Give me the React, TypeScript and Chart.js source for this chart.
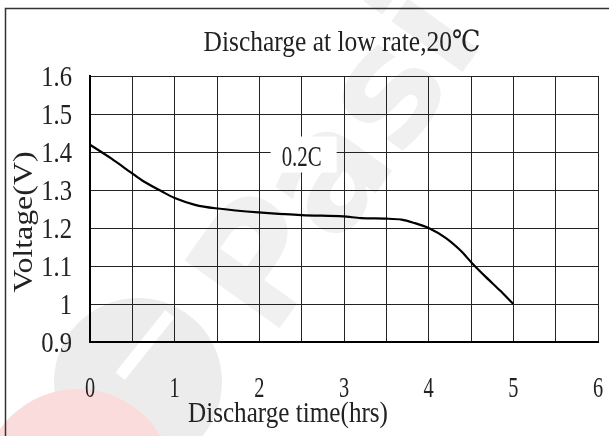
import React, { useEffect, useRef } from "react";
import { Chart, registerables } from "chart.js";

Chart.register(...registerables);

const hours = [0, 0.25, 0.49, 0.63, 0.85, 1.0, 1.24, 1.48, 1.99, 2.5, 2.99, 3.2, 3.5, 3.68, 3.82, 4.0, 4.2, 4.38, 4.51, 4.68, 4.84, 5.0];
const voltage = [1.419, 1.383, 1.345, 1.323, 1.296, 1.279, 1.261, 1.252, 1.241, 1.234, 1.2305, 1.226, 1.2245, 1.222, 1.214, 1.2, 1.174, 1.14, 1.108, 1.07, 1.036, 1.0];

const xTickValues = [0, 1, 2, 3, 4, 5, 6];
const xTickLabels = ["0", "1", "2", "3", "4", "5", "6"];
const yTickValues = [0.9, 1.0, 1.1, 1.2, 1.3, 1.4, 1.5, 1.6];
const yTickLabels = ["0.9", "1", "1.1", "1.2", "1.3", "1.4", "1.5", "1.6"];

const chartTitle = "Discharge at low rate,20\u2103";
const xTitle = "Discharge time(hrs)";
const yTitle = "Voltage(V)";
const curveLabel = "0.2C";
const curveLabelX = 2.5;
const curveLabelY = 1.375;

const FONT = '"Liberation Serif", "DejaVu Serif", serif';
const TEXT_COLOR = "#222222";

function drawScaled(
  ctx: CanvasRenderingContext2D,
  text: string,
  x: number,
  y: number,
  size: number,
  opts: { width?: number; sx?: number; align?: "left" | "center" | "right"; rotate?: number }
) {
  ctx.save();
  ctx.font = `${size}px ${FONT}`;
  ctx.fillStyle = TEXT_COLOR;
  ctx.textBaseline = "middle";
  const w = ctx.measureText(text).width;
  const sx = opts.width ? opts.width / w : opts.sx ?? 1;
  ctx.translate(x, y);
  if (opts.rotate) ctx.rotate(opts.rotate);
  ctx.scale(sx, 1);
  ctx.textAlign = opts.align ?? "center";
  ctx.fillText(text, 0, 0);
  ctx.restore();
}

const decorPlugin = {
  id: "decor",
  beforeDraw(chart: any) {
    const ctx: CanvasRenderingContext2D = chart.ctx;
    ctx.save();
    ctx.fillStyle = "#ffffff";
    ctx.fillRect(0, 0, chart.width, chart.height);
    // faint watermark
    ctx.fillStyle = "#ececec";
    ctx.beginPath();
    ctx.arc(138, 382, 84, 0, Math.PI * 2);
    ctx.fill();
    ctx.fillStyle = "#fadcdc";
    ctx.beginPath();
    ctx.arc(78, 485, 96, 0, Math.PI * 2);
    ctx.fill();
    ctx.save();
    ctx.translate(145, 345);
    ctx.rotate(-0.9);
    ctx.fillStyle = "#ffffff";
    ctx.fillRect(-40, -6, 80, 12);
    ctx.restore();
    ctx.save();
    ctx.translate(345, 165);
    ctx.rotate(-0.95);
    ctx.font = `bold 160px "DejaVu Sans", sans-serif`;
    ctx.fillStyle = "#f0f0f0";
    ctx.textAlign = "center";
    ctx.textBaseline = "middle";
    ctx.fillText("Pasi", 0, 0);
    ctx.restore();
    ctx.restore();
  },
  beforeDatasetsDraw(chart: any) {
    const ctx: CanvasRenderingContext2D = chart.ctx;
    const xs = chart.scales.x;
    const ys = chart.scales.y;
    const cx = xs.getPixelForValue(curveLabelX);
    const cy = ys.getPixelForValue(curveLabelY);
    ctx.save();
    ctx.fillStyle = "#ffffff";
    ctx.fillRect(cx - 31, cy - 25, 66, 36);
    ctx.restore();
    drawScaled(ctx, curveLabel, cx, cy - 3, 30, { width: 40 });
  },
  afterDraw(chart: any) {
    const ctx: CanvasRenderingContext2D = chart.ctx;
    const xs = chart.scales.x;
    const ys = chart.scales.y;
    // outer frame
    ctx.save();
    ctx.strokeStyle = "#333";
    ctx.lineWidth = 1.5;
    ctx.beginPath();
    ctx.moveTo(5.5, chart.height);
    ctx.lineTo(5.5, 8.5);
    ctx.lineTo(chart.width, 8.5);
    ctx.stroke();
    ctx.restore();

    drawScaled(ctx, chartTitle, 342, 43, 29, { width: 277 });
    yTickValues.forEach((v, i) => {
      drawScaled(ctx, yTickLabels[i], 72, ys.getPixelForValue(v) + 2, 29, { sx: 0.85, align: "right" });
    });
    xTickValues.forEach((v, i) => {
      drawScaled(ctx, xTickLabels[i], xs.getPixelForValue(v), 389, 29, { sx: 0.7 });
    });
    drawScaled(ctx, xTitle, 288, 414, 29, { width: 200 });
    drawScaled(ctx, yTitle, 25, 222, 27, { width: 141, rotate: -Math.PI / 2 });
  },
};

export default function App() {
  const ref = useRef<HTMLCanvasElement>(null);
  useEffect(() => {
    if (!ref.current) return;
    const chart = new Chart(ref.current, {
      type: "line",
      data: {
        datasets: [
          {
            data: hours.map((h, i) => ({ x: h, y: voltage[i] })),
            borderColor: "#000000",
            borderWidth: 2.2,
            pointRadius: 0,
            tension: 0.3,
            fill: false,
          },
        ],
      },
      options: {
        responsive: false,
        animation: false,
        devicePixelRatio: 1,
        layout: { padding: { left: 90, top: 76, right: 11, bottom: 94 } },
        plugins: { legend: { display: false }, tooltip: { enabled: false }, title: { display: false } },
        scales: {
          x: {
            type: "linear",
            min: 0,
            max: 6,
            ticks: { display: false, stepSize: 0.5 },
            grid: { color: "#222222", lineWidth: 1, drawTicks: false },
            border: { display: true, color: "#000", width: 2 },
          },
          y: {
            type: "linear",
            min: 0.9,
            max: 1.6,
            ticks: { display: false, stepSize: 0.1 },
            grid: { color: "#222222", lineWidth: 1, drawTicks: false },
            border: { display: true, color: "#000", width: 2 },
          },
        },
      },
      plugins: [decorPlugin],
    });
    return () => chart.destroy();
  }, []);
  return (
    <div style={{ position: "fixed", left: 0, top: 0, width: 609, height: 436 }}>
      <canvas ref={ref} width={609} height={436} />
    </div>
  );
}
